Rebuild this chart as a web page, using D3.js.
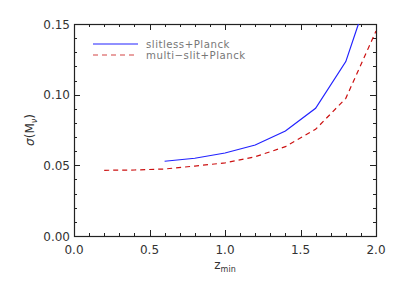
<!DOCTYPE html>
<html>
<head>
  <script src="https://d3js.org/d3.v7.min.js"></script>
  <style>
    * { margin: 0; box-sizing: border-box; }
    body { background: #fff; }
    text { font-family: "DejaVu Sans", sans-serif; fill: #333; }
  </style>
</head>
<body>
<script>
  // data
  const zSlitless = [0.6, 0.8, 1.0, 1.2, 1.4, 1.6, 1.8, 2.0];
  const sigmaSlitless = [0.0529, 0.0550, 0.0587, 0.0644, 0.0743, 0.0904, 0.1234, 0.187];
  const zMulti = [0.2, 0.4, 0.6, 0.8, 1.0, 1.2, 1.4, 1.6, 1.8, 2.0];
  const sigmaMulti = [0.0465, 0.0467, 0.0474, 0.0495, 0.0517, 0.0561, 0.0632, 0.0755, 0.0974, 0.145];
  const xTicks = [0.0, 0.5, 1.0, 1.5, 2.0];
  const yTicks = [0.00, 0.05, 0.10, 0.15];
  const legendLabels = ["slitless+Planck", "multi\u2212slit+Planck"];

  const width = 398, height = 284;
  const m = { left: 74, right: 22, top: 24, bottom: 48 };
  const iw = width - m.left - m.right, ih = height - m.top - m.bottom;

  const svg = d3.select("body").append("svg")
    .attr("width", width).attr("height", height);

  const x = d3.scaleLinear().domain([0, 2]).range([m.left, m.left + iw]);
  const y = d3.scaleLinear().domain([0, 0.15]).range([m.top + ih, m.top]);

  svg.append("clipPath").attr("id", "clip")
    .append("rect").attr("x", m.left).attr("y", m.top).attr("width", iw).attr("height", ih);

  // ticks on all four sides, pointing inward
  const xMinor = d3.range(0, 2.0001, 0.1);
  const yMinor = d3.range(0, 0.15001, 0.01);
  const tk = svg.append("g").attr("stroke", "#222").attr("stroke-width", 1);
  xMinor.forEach((v, i) => {
    const len = i % 5 === 0 ? 6 : 3;
    const px = Math.round(x(v)) + 0.5;
    tk.append("line").attr("x1", px).attr("x2", px).attr("y1", m.top + ih).attr("y2", m.top + ih - len);
    tk.append("line").attr("x1", px).attr("x2", px).attr("y1", m.top).attr("y2", m.top + len);
  });
  yMinor.forEach((v, i) => {
    const len = i % 5 === 0 ? 6 : 3;
    const py = Math.round(y(v)) + 0.5;
    tk.append("line").attr("y1", py).attr("y2", py).attr("x1", m.left).attr("x2", m.left + len);
    tk.append("line").attr("y1", py).attr("y2", py).attr("x1", m.left + iw).attr("x2", m.left + iw - len);
  });

  svg.append("rect")
    .attr("x", m.left + 0.5).attr("y", m.top + 0.5)
    .attr("width", iw).attr("height", ih)
    .attr("fill", "none").attr("stroke", "#222").attr("stroke-width", 1.2);

  svg.append("g").selectAll("text").data(xTicks).join("text")
    .attr("x", d => x(d)).attr("y", m.top + ih + 18)
    .attr("text-anchor", "middle").attr("font-size", 12)
    .text(d => d.toFixed(1));

  svg.append("g").selectAll("text").data(yTicks).join("text")
    .attr("x", m.left - 4).attr("y", d => y(d) + 4.5)
    .attr("text-anchor", "end").attr("font-size", 12)
    .text(d => d.toFixed(2));

  // axis titles
  const xl = svg.append("text").attr("x", x(1)).attr("y", 269)
    .attr("text-anchor", "middle").attr("font-size", 12);
  xl.append("tspan").text("z");
  xl.append("tspan").attr("font-size", 8).attr("dy", 3).text("min");

  const yl = svg.append("text")
    .attr("transform", `translate(34,${y(0.075)}) rotate(-90)`)
    .attr("text-anchor", "middle").attr("font-size", 12);
  yl.append("tspan").attr("font-style", "italic").text("\u03c3");
  yl.append("tspan").text("(M");
  yl.append("tspan").attr("font-size", 8).attr("dy", 3).attr("font-style", "italic").text("\u03bd");
  yl.append("tspan").attr("dy", -3).text(")");

  const line = d3.line().x(d => x(d[0])).y(d => y(d[1]));
  const plot = svg.append("g").attr("clip-path", "url(#clip)");

  plot.append("path")
    .datum(d3.zip(zSlitless, sigmaSlitless))
    .attr("d", line).attr("fill", "none")
    .attr("stroke", "#2222ff").attr("stroke-width", 1.2);

  plot.append("path")
    .datum(d3.zip(zMulti, sigmaMulti))
    .attr("d", line).attr("fill", "none")
    .attr("stroke", "#cc1111").attr("stroke-width", 1.2)
    .attr("stroke-dasharray", "5,4");

  // legend
  const lg = svg.append("g");
  const colors = ["#2222ff", "#d44444"];
  legendLabels.forEach((t, i) => {
    const ly = 44 + i * 11;
    lg.append("line").attr("x1", 93).attr("x2", 138).attr("y1", ly).attr("y2", ly)
      .attr("stroke", colors[i]).attr("stroke-width", 1.2)
      .attr("stroke-dasharray", i === 1 ? "5,4" : null);
    lg.append("text").attr("x", 146).attr("y", ly + 3.5)
      .attr("font-size", 10.2).attr("letter-spacing", 0.5)
      .style("fill", "#777").text(t);
  });
</script>
</body>
</html>
